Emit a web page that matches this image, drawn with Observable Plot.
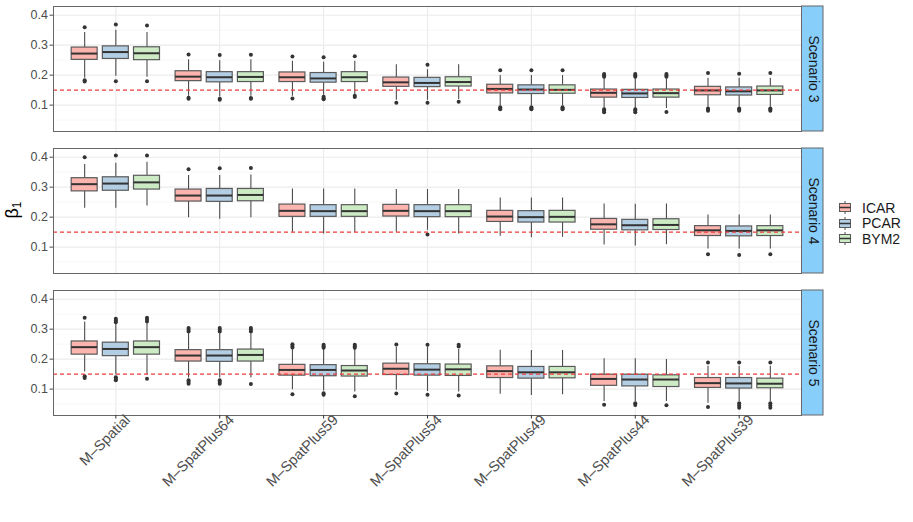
<!DOCTYPE html>
<html><head><meta charset="utf-8">
<script src="https://cdn.jsdelivr.net/npm/d3@7"></script>
<script src="https://cdn.jsdelivr.net/npm/@observablehq/plot@0.6"></script>
<style>
body{margin:0;background:#fff;font-family:"Liberation Sans",Arial,Helvetica,sans-serif;}
#wrap{position:relative;width:913px;height:522px;overflow:hidden;}
#ylab{position:absolute;left:13px;top:210px;transform:translate(-50%,-50%) rotate(-90deg);font-size:18px;color:#000;white-space:nowrap;}
#ylab sub{font-size:12px;vertical-align:-3px;}
#legend{position:absolute;left:838px;top:200px;font-size:14px;color:#1a1a1a;}
#legend .row{display:flex;align-items:center;height:15.5px;}
#legend svg{margin-right:10px;}
</style></head><body>
<div id="wrap"><div id="ylab">β<sub>1</sub></div><div id="legend"></div></div>
<script>
const categories = ["M–Spatial","M–SpatPlus64","M–SpatPlus59","M–SpatPlus54","M–SpatPlus49","M–SpatPlus44","M–SpatPlus39"];
const models = ["ICAR","PCAR","BYM2"];
const scenarios = ["Scenario 3","Scenario 4","Scenario 5"];
const modelColors = ["#FBB4AE","#B3CDE3","#CCEBC5"];
const yTicks = [0.1,0.2,0.3,0.4];
const yMinorTicks = [0.05,0.15,0.25,0.35];
const trueValue = 0.15;

// Scenario 3 : [category][ICAR, PCAR, BYM2]
const lowS3 = [[0.190,0.196,0.193],[0.130,0.127,0.130],[0.130,0.133,0.135],[0.116,0.116,0.119],[0.097,0.097,0.097],[0.089,0.089,0.089],[0.093,0.093,0.093]];
const q1S3  = [[0.251,0.254,0.250],[0.180,0.176,0.177],[0.177,0.175,0.177],[0.161,0.160,0.162],[0.139,0.137,0.138],[0.125,0.124,0.125],[0.133,0.132,0.134]];
const medS3 = [[0.272,0.277,0.273],[0.195,0.193,0.194],[0.193,0.189,0.193],[0.176,0.174,0.177],[0.154,0.152,0.151],[0.141,0.139,0.140],[0.149,0.146,0.149]];
const q3S3  = [[0.292,0.296,0.293],[0.213,0.210,0.210],[0.209,0.207,0.210],[0.192,0.191,0.193],[0.168,0.166,0.166],[0.152,0.151,0.152],[0.161,0.159,0.162]];
const highS3= [[0.342,0.350,0.342],[0.251,0.248,0.251],[0.246,0.243,0.246],[0.235,0.218,0.235],[0.199,0.199,0.199],[0.188,0.188,0.188],[0.190,0.190,0.190]];
const outS3 = [
  [[0.360,0.183,0.179],[0.369,0.180],[0.366,0.180]],
  [[0.269,0.125,0.121],[0.267,0.121,0.118],[0.268,0.124,0.121]],
  [[0.262,0.122],[0.260,0.128,0.123,0.120],[0.263,0.131,0.127]],
  [[0.108],[0.235,0.108],[0.111]],
  [[0.216,0.093,0.089,0.086],[0.216,0.093,0.089,0.086],[0.216,0.093,0.089,0.086]],
  [[0.204,0.199,0.195,0.086,0.081,0.076],[0.204,0.199,0.195,0.086,0.081,0.076],[0.204,0.199,0.195,0.077]],
  [[0.207,0.089,0.085,0.081],[0.205,0.089,0.085,0.081],[0.207,0.089,0.085,0.081]]
];

// Scenario 4
const lowS4 = [[0.230,0.230,0.237],[0.198,0.193,0.198],[0.150,0.144,0.149],[0.150,0.156,0.144],[0.136,0.131,0.133],[0.107,0.104,0.108],[0.094,0.094,0.094]];
const q1S4  = [[0.286,0.288,0.292],[0.252,0.251,0.253],[0.201,0.201,0.201],[0.202,0.200,0.200],[0.184,0.182,0.182],[0.158,0.156,0.157],[0.137,0.136,0.137]];
const medS4 = [[0.310,0.312,0.316],[0.272,0.272,0.274],[0.221,0.220,0.220],[0.221,0.220,0.220],[0.202,0.200,0.201],[0.176,0.173,0.174],[0.156,0.154,0.156]];
const q3S4  = [[0.330,0.333,0.338],[0.292,0.294,0.294],[0.242,0.240,0.240],[0.241,0.240,0.240],[0.221,0.220,0.221],[0.194,0.191,0.193],[0.170,0.169,0.170]];
const highS4= [[0.376,0.380,0.383],[0.339,0.339,0.341],[0.294,0.294,0.294],[0.292,0.292,0.292],[0.264,0.264,0.264],[0.244,0.243,0.244],[0.207,0.207,0.207]];
const outS4 = [
  [[0.400],[0.406],[0.406]],
  [[0.360],[0.363],[0.364]],
  [[],[],[]],
  [[],[0.142],[]],
  [[],[],[]],
  [[],[],[]],
  [[0.076],[0.074],[0.076]]
];

// Scenario 5
const lowS5 = [[0.157,0.148,0.148],[0.137,0.137,0.137],[0.098,0.094,0.090],[0.096,0.092,0.090],[0.083,0.079,0.081],[0.059,0.059,0.059],[0.053,0.059,0.059]];
const q1S5  = [[0.215,0.210,0.215],[0.192,0.191,0.192],[0.145,0.143,0.142],[0.147,0.145,0.144],[0.137,0.135,0.136],[0.111,0.109,0.107],[0.104,0.102,0.103]];
const medS5 = [[0.240,0.234,0.240],[0.212,0.212,0.214],[0.164,0.164,0.162],[0.168,0.165,0.166],[0.160,0.156,0.156],[0.134,0.132,0.132],[0.120,0.119,0.118]];
const q3S5  = [[0.259,0.255,0.259],[0.230,0.230,0.232],[0.181,0.180,0.177],[0.185,0.183,0.182],[0.176,0.174,0.174],[0.148,0.148,0.146],[0.137,0.137,0.135]];
const highS5= [[0.324,0.316,0.318],[0.285,0.285,0.285],[0.232,0.232,0.232],[0.240,0.240,0.232],[0.230,0.229,0.229],[0.201,0.201,0.199],[0.176,0.176,0.176]];
const outS5 = [
  [[0.338,0.143,0.137],[0.335,0.329,0.323,0.140,0.134,0.130],[0.338,0.332,0.326,0.135]],
  [[0.304,0.298,0.292,0.130,0.124,0.118],[0.304,0.298,0.292,0.130,0.124,0.118],[0.304,0.298,0.292,0.117]],
  [[0.250,0.244,0.239,0.083],[0.248,0.243,0.238,0.086,0.081],[0.248,0.243,0.238,0.076]],
  [[0.249,0.085],[0.248,0.081],[0.248,0.242,0.079]],
  [[],[],[]],
  [[0.048],[0.053,0.047],[0.046]],
  [[0.189,0.040],[0.189,0.053,0.045,0.038],[0.189,0.053,0.045,0.038]]
];

// layout constants
const dodge = [-0.3, 0, 0.3];
const halfBox = 0.125;
const xDomain = [-0.6, categories.length - 1 + 0.6];
const yDomain = [0.012, 0.429];

const stats = {
  "Scenario 3": [lowS3,q1S3,medS3,q3S3,highS3,outS3],
  "Scenario 4": [lowS4,q1S4,medS4,q3S4,highS4,outS4],
  "Scenario 5": [lowS5,q1S5,medS5,q3S5,highS5,outS5]
};
const rows = [], outRows = [];
for (const s of scenarios) {
  const [lo,q1,med,q3,hi,out] = stats[s];
  categories.forEach((c, ci) => models.forEach((m, mi) => {
    const pos = ci + dodge[mi];
    rows.push({scenario: s, category: c, model: m, pos,
      lo: lo[ci][mi], q1: q1[ci][mi], med: med[ci][mi], q3: q3[ci][mi], hi: hi[ci][mi]});
    for (const v of out[ci][mi]) outRows.push({scenario: s, model: m, pos, v});
  }));
}

const chart = Plot.plot({
  width: 913, height: 522,
  marginTop: 5, marginBottom: 106, marginLeft: 53, marginRight: 112,
  style: {fontFamily: '"Liberation Sans", Arial, sans-serif', fontSize: "12.5px", background: "white", overflow: "visible"},
  x: {domain: xDomain},
  y: {domain: yDomain},
  fy: {domain: scenarios, axis: null, paddingInner: 0.12, paddingOuter: 0, label: null},
  color: {domain: models, range: modelColors},
  marks: [
    Plot.ruleY(yMinorTicks, {stroke: "#f2f2f2", strokeWidth: 0.6}),
    Plot.ruleY(yTicks, {stroke: "#ebebeb", strokeWidth: 1.1}),
    Plot.ruleX(d3.range(categories.length), {stroke: "#ebebeb", strokeWidth: 1.1}),
    Plot.ruleX(rows, {x: "pos", y1: "lo", y2: "q1", fy: "scenario", stroke: "#4d4d4d", strokeWidth: 1.1}),
    Plot.ruleX(rows, {x: "pos", y1: "q3", y2: "hi", fy: "scenario", stroke: "#4d4d4d", strokeWidth: 1.1}),
    Plot.rect(rows, {x1: d => d.pos - halfBox, x2: d => d.pos + halfBox, y1: "q1", y2: "q3", fy: "scenario",
      fill: "model", stroke: "#5a5a5a", strokeWidth: 1.2}),
    Plot.ruleY(rows, {y: "med", x1: d => d.pos - halfBox, x2: d => d.pos + halfBox, fy: "scenario", stroke: "#333", strokeWidth: 2}),
    Plot.dot(outRows, {x: "pos", y: "v", fy: "scenario", r: 2, fill: "#333", stroke: null}),
    Plot.ruleY([trueValue], {stroke: "#f03c3c", strokeWidth: 1.1, strokeDasharray: "4,3"}),
    Plot.frame({stroke: "#666", strokeWidth: 1}),
    Plot.rect(scenarios, {fy: d => d, x1: () => xDomain[1], x2: () => xDomain[1], y1: () => yDomain[0], y2: () => yDomain[1],
      insetLeft: 0.5, insetRight: -22, fill: "#87CEFA", stroke: "#666", strokeWidth: 1}),
    Plot.text(scenarios, {fy: d => d, text: d => d, frameAnchor: "right", textAnchor: "middle", lineAnchor: "middle",
      dx: 11.5, rotate: 90, fontSize: 14, fill: "#1a1a1a"}),
    Plot.axisY(yTicks, {tickSize: 3.5, tickPadding: 2, fontSize: 12.5, color: "#4d4d4d", label: null, tickFormat: d3.format(".1f")}),
    Plot.axisX(d3.range(categories.length), {tickSize: 3.5, tickFormat: () => "", color: "#333", label: null}),
    Plot.text(categories, {x: (d, i) => i, fy: () => scenarios[scenarios.length - 1], frameAnchor: "bottom", text: d => d,
      rotate: -45, textAnchor: "end", lineAnchor: "middle", dx: 12, dy: 2, fontSize: 14.5, fill: "#4d4d4d"})
  ]
});
document.getElementById("wrap").prepend(chart);

// legend (ggplot-style boxplot keys)
const legend = d3.select("#legend");
models.forEach((m, i) => {
  const row = legend.append("div").attr("class", "row");
  const s = row.append("svg").attr("width", 14).attr("height", 15);
  s.append("line").attr("x1", 7).attr("x2", 7).attr("y1", 1).attr("y2", 14).attr("stroke", "#4d4d4d");
  s.append("rect").attr("x", 1.5).attr("y", 3.5).attr("width", 11).attr("height", 8).attr("fill", modelColors[i]).attr("stroke", "#5a5a5a");
  s.append("line").attr("x1", 1.5).attr("x2", 12.5).attr("y1", 7.5).attr("y2", 7.5).attr("stroke", "#333").attr("stroke-width", 1.5);
  row.append("span").text(m);
});
</script>
</body></html>
